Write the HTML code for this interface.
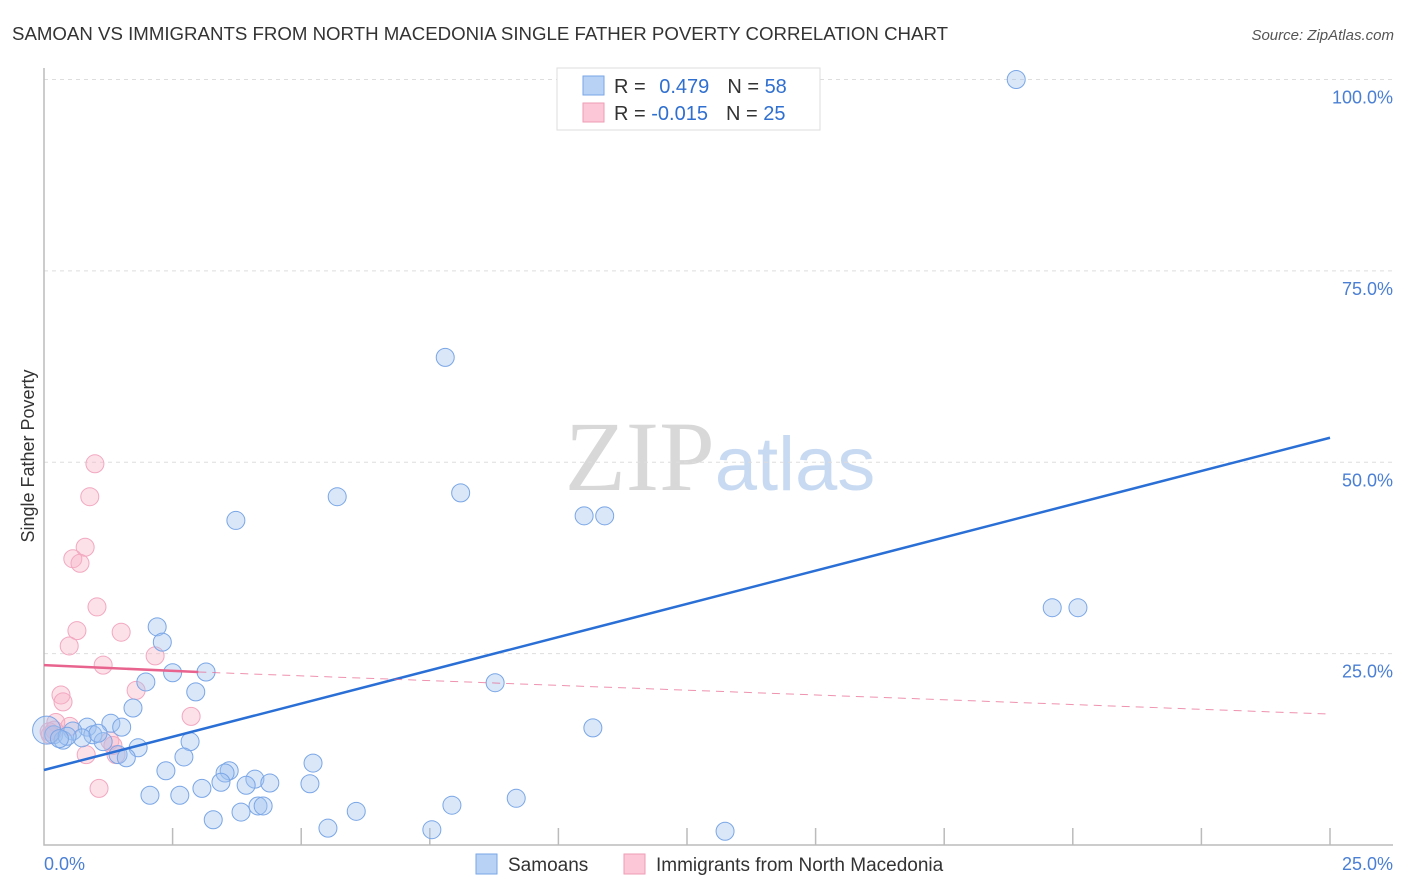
<!DOCTYPE html>
<html><head><meta charset="utf-8"><style>
body{margin:0;background:#fff;font-family:"Liberation Sans",sans-serif;}
svg{display:block}
</style></head><body>
<svg id="chart" width="1406" height="892" viewBox="0 0 1406 892" xmlns="http://www.w3.org/2000/svg">
<text x="12" y="40" font-size="18" fill="#333" textLength="936" lengthAdjust="spacingAndGlyphs">SAMOAN VS IMMIGRANTS FROM NORTH MACEDONIA SINGLE FATHER POVERTY CORRELATION CHART</text>
<text x="1394" y="40" font-size="15" fill="#555" text-anchor="end" font-style="italic">Source: ZipAtlas.com</text>
<text x="720" y="490" font-size="100" text-anchor="middle" font-family="Liberation Serif,serif"><tspan fill="#d8d8d8">ZIP</tspan><tspan fill="#c8daf2" font-family="Liberation Sans,sans-serif" font-size="76">atlas</tspan></text>
<text transform="translate(34,456) rotate(-90)" font-size="18" fill="#333" text-anchor="middle">Single Father Poverty</text>
<g id="grid"></g><g id="axes"></g><g id="marks"></g><g id="lines"></g>
<g>
<rect x="557" y="68" width="263" height="62" fill="#fff" stroke="#ddd"/>
<rect x="583" y="76" width="21" height="19" fill="#b7d2f5" stroke="#7aa6e6"/>
<rect x="583" y="103" width="21" height="19" fill="#fcc8d7" stroke="#ee9db6"/>
<text x="614" y="93" font-size="20" fill="#333">R = <tspan fill="#2f6fd0" dx="8">0.479</tspan><tspan fill="#333" dx="18">N = </tspan><tspan fill="#2f6fd0">58</tspan></text>
<text x="614" y="120" font-size="20" fill="#333">R = <tspan fill="#2f6fd0">-0.015</tspan><tspan fill="#333" dx="18">N = </tspan><tspan fill="#2f6fd0">25</tspan></text>
</g>
<g>
<rect x="476" y="854" width="21" height="20" fill="#b7d2f5" stroke="#7aa6e6"/>
<text x="508" y="871" font-size="19" fill="#333">Samoans</text>
<rect x="624" y="854" width="21" height="20" fill="#fcc8d7" stroke="#ee9db6"/>
<text x="656" y="871" font-size="19" fill="#333">Immigrants from North Macedonia</text>
</g>
</svg>
<script>
const blueX=[18.9,7.8,5.7,8.1,3.73,10.5,10.9,19.6,20.1,2.2,2.3,2.5,3.15,1.98,2.95,8.77,1.73,1.3,1.51,10.67,0.84,0.56,0.95,0.19,0.37,0.74,1.15,2.84,1.83,1.44,1.6,2.72,5.23,2.37,3.6,3.52,4.1,3.44,3.93,4.39,5.17,3.07,2.06,2.64,9.18,4.16,4.26,6.07,7.93,3.83,3.29,5.52,7.54,13.24,0.05,0.45,1.05,0.3];
const blueY=[100,63.7,45.5,46,42.4,43,43,31,31,28.5,26.5,22.5,22.6,21.3,20,21.2,17.9,15.9,15.4,15.3,15.4,14.9,14.4,14.4,13.7,14,13.5,13.5,12.7,11.8,11.4,11.5,10.7,9.7,9.7,9.4,8.6,8.2,7.8,8.1,8,7.4,6.5,6.5,6.1,5.1,5.1,4.4,5.2,4.3,3.3,2.2,2,1.8,15,14.2,14.6,13.9];
const pinkX=[0.99,0.89,0.8,0.56,0.7,1.03,0.64,1.5,0.49,2.16,1.15,1.79,0.33,0.37,2.86,0.5,0.23,0.12,1.28,1.34,0.82,1.4,1.07,0.2,0.1];
const pinkY=[49.8,45.5,38.9,37.4,36.8,31.1,28,27.8,26,24.7,23.5,20.2,19.6,18.7,16.8,15.5,16,14.4,13.6,13,11.8,11.8,7.4,15,14.8];
const blueTrend=[9.8,53.2];
const pinkTrend=[23.5,22.6,17.1];
const yTicks=[25,50,75,100];
const xTickVals=[2.5,5,7.5,10,12.5,15,17.5,20,22.5,25];
const NS="http://www.w3.org/2000/svg";
const X=v=>44+v/25*1286, Y=v=>845-v/100*765.5;
function mk(t,a,p){const e=document.createElementNS(NS,t);for(const k in a)e.setAttribute(k,a[k]);p.appendChild(e);return e;}
const grid=document.getElementById('grid'),axes=document.getElementById('axes'),marks=document.getElementById('marks'),lines=document.getElementById('lines');
yTicks.forEach(v=>{const l=mk('line',{x1:44,x2:1393,y1:Y(v),y2:Y(v),stroke:'#ddd','stroke-dasharray':'4,4'},grid);


const t=mk('text',{x:1393,y:Y(v)+24,'font-size':18,fill:'#4a7fd4','text-anchor':'end'},axes);t.textContent=v.toFixed(1)+'%';

});
const ax=mk('path',{d:'M44,68V845H1393',fill:'none',stroke:'#bbb','stroke-width':1.5},axes);


xTickVals.forEach(v=>{const l=mk('line',{x1:X(v),x2:X(v),y1:828,y2:845,stroke:'#bbb','stroke-width':1.5},axes);

});
[[0,'start',44],[25,'end',1393]].forEach(a=>{const t=mk('text',{x:a[2],y:870,'font-size':18,fill:'#4a7fd4','text-anchor':a[1]},axes);t.textContent=a[0].toFixed(1)+'%';

});
pinkX.forEach((x,i)=>{const c=mk('circle',{cx:X(x),cy:Y(pinkY[i]),r:9,fill:'rgba(248,175,198,0.38)',stroke:'#f2a8c0','stroke-width':1},marks);

});
blueX.forEach((x,i)=>{const c=mk('circle',{cx:X(x),cy:Y(blueY[i]),r:i==54?14:9,fill:'rgba(160,195,240,0.4)',stroke:'#7aa6e6','stroke-width':1},marks);

});
const bl=mk('line',{x1:X(0),y1:Y(blueTrend[0]),x2:X(25),y2:Y(blueTrend[1]),stroke:'#2a6fd6','stroke-width':2.5},lines);


const pl=mk('line',{x1:X(0),y1:Y(pinkTrend[0]),x2:X(3),y2:Y(pinkTrend[1]),stroke:'#e8648e','stroke-width':2.5},lines);


const pd=mk('line',{x1:X(3),y1:Y(pinkTrend[1]),x2:X(25),y2:Y(pinkTrend[2]),stroke:'#e8648e','stroke-width':1,'stroke-dasharray':'8,6',opacity:0.7},lines);


</script>
</body></html>
